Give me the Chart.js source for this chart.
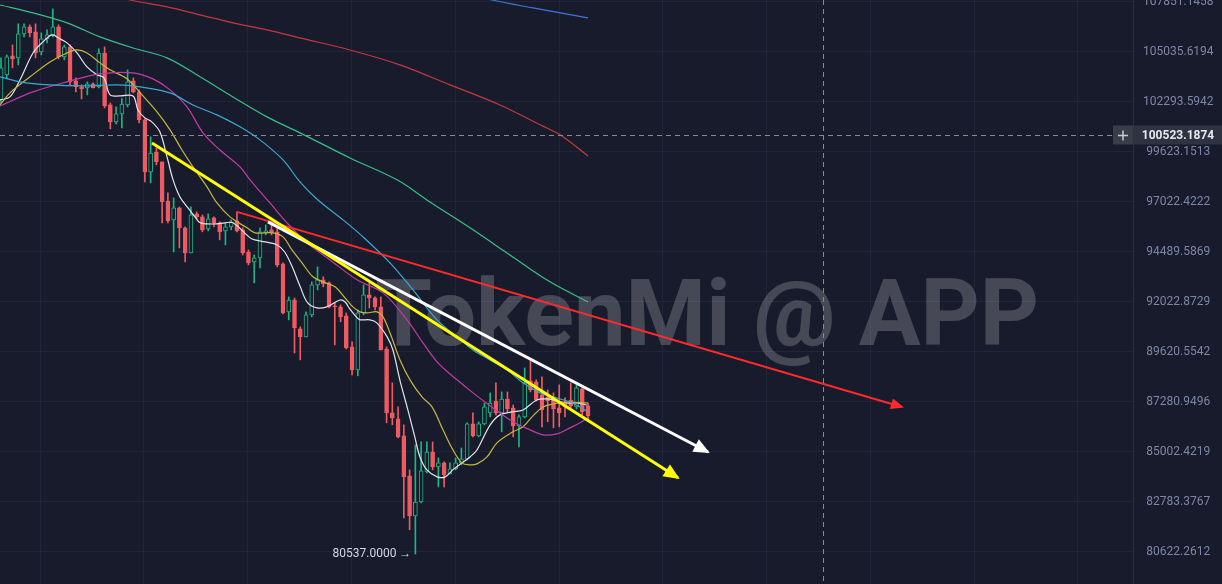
<!DOCTYPE html>
<html>
<head>
<meta charset="utf-8">
<script src="https://cdn.jsdelivr.net/npm/chart.js@4.4.1/dist/chart.umd.min.js"></script>
<style>
    html, body { margin: 0; padding: 0; background: #181b2b; }
    canvas { display: block; }
</style>
</head>
<body>
<canvas id="chart" width="1222" height="584"></canvas>
<script>
// candles, one per bar (index = bar number)
const opens  = [102404,103775,104817,104707,106049,106443,106162,105036,105768,105993,106443,104762,105318,103446,103117,103062,103281,103117,104981,102134,101226,101653,102134,103446,102842,101333,98583,99623,99103,97074,96110,96718,95705,94441,96414,96262,95654,96211,95958,95553,95756,96059,95604,94490,93997,94194,95452,95604,95503,93898,91543,92122,90726,90341,91398,92862,93108,92960,91831,91783,91350,89861,88779,91494,92368,92220,91783,89765,86780,86506,85731,83937,82178,82783,84115,85002,84336,84514,84026,84248,84514,84691,86278,85732,86278,86780,87328,86780,87421,87008,86187,86597,88264,88217,87609,87515,87421,87008,87281,87375,87053,87890,87099]
const highs  = [104707,104871,105430,106612,106612,106556,106612,106106,106275,107457,106556,105430,105430,103610,103226,103391,103336,105205,105318,102241,102027,102474,104049,103610,102952,101386,100425,99836,99103,97491,97230,96769,95756,96769,96515,96363,96414,96262,96009,95958,96110,96515,95705,94591,94342,95705,95857,95958,95857,93947,92270,92220,90822,91543,93010,93750,93257,93010,91975,91879,91494,90101,91639,92862,92960,92270,92270,89861,88170,87053,86233,84203,85321,85458,85458,85458,84736,84558,84514,84736,85184,86324,86780,86370,87235,87703,88170,87749,87749,87144,86689,88872,89247,88311,88451,87843,87703,88077,87468,88170,88077,87983,87235]
const lows   = [102241,103610,104159,104323,105880,105880,104707,104871,105543,105880,104652,104597,103226,102842,102459,102678,103062,103062,101974,100852,101119,100905,102027,102787,101172,98063,98011,98947,95958,95958,94490,94693,93997,94441,96161,95503,95553,95756,95097,94844,95604,95503,94342,93849,92960,93701,95351,95351,93750,91446,91158,89574,89247,90341,91302,92615,92763,91735,89957,91062,89765,88545,88498,91398,91735,91639,89717,86324,86233,85640,82091,81573,80537,82740,84070,84203,83449,83449,84026,84203,84425,84647,85686,85686,86233,86597,86689,85914,86825,85686,85230,86552,87749,87328,86142,86370,86096,86142,86597,87008,86962,86689,86461]
const closes = [104159,104762,104652,106049,106443,106106,104981,105768,105993,106443,104762,105318,103391,103117,103007,103281,103062,104981,102080,101226,101653,102187,103391,102842,101333,98583,99571,99103,97022,96059,96718,95705,94441,96363,96262,95604,96161,95958,95503,95756,96009,95553,94441,93947,94194,95503,95553,95452,93849,91494,92122,90774,90341,91398,92862,93108,92911,91783,91783,91302,89813,88779,91494,92368,92220,91783,89717,86780,86552,85686,83892,82178,82783,84159,85002,84336,84514,83981,84248,84514,84691,86278,85732,86278,87053,87235,86780,87421,86962,86187,86597,88170,87843,87375,86916,87328,86962,86780,87053,87099,87936,86825,86643]

// price axis labels (log scale, one label every 50px)
const priceTicks = [107851.1458, 105035.6194, 102293.5942, 99623.1513, 97022.4222, 94489.5869, 92022.8729, 89620.5542, 87280.9496, 85002.4219, 82783.3767, 80622.2612]
const priceMin = 79268.8
const priceMax = 107965.3
const barMin = -0.174
const barMax = 196.7
const timeGrid = [6.8, 24.8, 42.9, 60.9, 78.9, 97.0, 115.0, 133.0, 151.1, 169.1, 187.1]

// moving averages, [bar, price]
const maWhite = [[-0.17,102404],[1.56,102568],[3.3,103501],[5.56,104981],[7.3,105599],[8.86,105993],[10.25,105768],[11.47,105543],[13.21,104981],[14.94,104214],[16.68,103775],[17.9,103610],[18.94,102678],[20.68,102623],[22.94,102623],[23.8,101866],[25.0,101439],[26.2,101226],[27.6,100692],[28.85,99363],[29.9,98167],[31.1,97283],[32.5,96718],[33.7,96262],[34.6,95958],[35.8,95907],[37.5,95907],[38.9,95958],[40.3,95958],[43.3,95199],[44.1,95097],[45.9,94996],[48.0,94844],[49.3,94490],[50.6,93750],[52.0,92763],[53.3,91975],[54.9,91735],[56.6,91783],[58.9,92122],[59.8,92023],[60.6,91687],[61.9,91254],[62.4,91158],[64.1,91158],[65.3,91014],[67.1,90341],[68.1,89717],[69.3,88311],[70.7,86916],[71.9,85686],[72.8,84780],[74.0,84203],[75.8,83892],[77.2,83892],[78.5,84203],[80.1,84514],[81.5,84780],[82.7,85094],[85.0,86233],[86.7,86689],[88.8,86825],[90.7,86916],[93.1,87375],[94.9,87421],[96.6,87328],[98.3,87235],[100.1,87235],[101.8,87144]]
const maYellow = [[-0.17,102134],[1.56,102787],[5.04,103665],[8.51,104488],[11.47,104981],[13.21,105149],[14.94,104981],[17.2,104433],[18.94,104049],[21.89,103555],[24.5,102678],[27.11,101760],[29.37,100799],[31.45,99730],[33.36,98843],[35.8,97803],[37.53,96972],[39.79,96262],[42.75,95705],[44.14,95452],[47.26,95452],[49.0,95249],[50.56,94591],[52.3,93947],[54.21,93257],[55.95,93010],[58.04,92763],[59.77,92220],[61.16,91783],[62.38,91543],[63.6,91494],[65.34,91543],[66.38,91302],[67.59,90534],[69.33,89247],[71.07,88311],[73.15,87515],[74.89,87053],[76.8,86005],[78.54,85094],[80.1,84514],[81.49,84425],[82.71,84470],[84.45,84780],[86.18,85413],[88.96,85914],[90.7,86142],[92.27,86597],[94.18,87053],[95.92,87190],[98.35,87281],[102.0,87235]]
const maMagenta = [[-0.17,102080],[5.56,102842],[11.47,103391],[17.2,103830],[22.94,103885],[26.41,103555],[29.37,102952],[32.32,102027],[35.1,100638],[38.05,99730],[41.53,98843],[43.27,98167],[46.74,96972],[49.7,95958],[53.17,94946],[57.17,94095],[61.86,93108],[66.38,92467],[70.55,91158],[73.33,90053],[75.93,89106],[79.24,88311],[82.02,87703],[85.49,87008],[88.97,86370],[91.92,86005],[94.18,85777],[96.61,85823],[98.87,86096],[100.61,86324],[102.0,86552]]
const maCyan = [[-0.17,103665],[3.3,103391],[8.51,103226],[14.25,103172],[20.16,103226],[24.15,103117],[29.37,102787],[33.36,102134],[37.53,101600],[41.53,100959],[45.0,100264],[49.0,99207],[51.95,98063],[55.08,97126],[59.43,96110],[62.9,95249],[67.59,93947],[71.59,92615],[75.76,91158],[79.24,90341],[82.02,89717],[84.97,89247],[87.92,88779],[90.7,88170],[93.66,87703],[95.92,87515],[98.87,87281],[100.61,87053],[102.0,86825]]
const maGreen = [[-0.17,107682],[5.56,107232],[11.47,106669],[17.2,105880],[22.94,105260],[28.85,104707],[34.58,103665],[40.31,102568],[46.22,101493],[51.95,100638],[60.64,99311],[68.81,98167],[74.54,97022],[81.49,95705],[88.44,94342],[95.4,93010],[102.0,92023]]
const maRed = [[17.2,108414],[22.42,107964],[28.85,107570],[34.58,107119],[40.31,106669],[46.22,106275],[51.95,105824],[60.64,105149],[69.33,104323],[78.02,103226],[86.71,102134],[93.66,101066],[97.13,100532],[102.0,99415]]
const maBlue = [[81.5,108302],[85.32,107964],[92.44,107513],[102.0,106950]]

// hand drawn trend lines
const trendYellow = [[26.24,100104],[117.64,83848]]
const trendWhite = [[46.39,96009],[122.85,85002]]
const trendRed = [[41.01,96515],[156.56,87053]]

const crossPrice = 100523.1874
const crossBar = 142.8
const lowBar = 72

const colors = {
    bg: '#181b2b',
    grid: '#21253a',
    up: '#1db585',
    down: '#ee5b63',
    text: '#7c86a8'
}

const bars = opens.map((_, i) => i)
const upCandle = i => closes[i] >= opens[i]
const toPoints = arr => arr.map(p => ({ x: p[0], y: p[1] }))

function lineSet(pts, color, width, order, extra) {
    return Object.assign({
        type: 'line',
        data: toPoints(pts),
        borderColor: color,
        borderWidth: width,
        pointRadius: 0,
        tension: 0.35,
        fill: false,
        order: order
    }, extra || {})
}

const bgPlugin = {
    id: 'bg',
    beforeDraw(chart) {
        const ctx = chart.ctx
        ctx.save()
        ctx.fillStyle = colors.bg
        ctx.fillRect(0, 0, chart.width, chart.height)
        ctx.restore()
    }
}

const watermark = {
    id: 'watermark',
    beforeDatasetsDraw(chart) {
        const ctx = chart.ctx
        ctx.save()
        ctx.font = 'bold 92px Roboto'
        ctx.fillStyle = 'rgba(255,255,255,0.2)'
        ctx.textAlign = 'center'
        ctx.textBaseline = 'alphabetic'
        ctx.fillText('TokenMi @ APP', 707, 345)
        ctx.restore()
    }
}

const arrows = {
    id: 'arrows',
    afterDatasetsDraw(chart) {
        const ctx = chart.ctx
        chart.data.datasets.forEach((ds, i) => {
            if(!ds.arrow) return
            const pts = chart.getDatasetMeta(i).data
            const a = pts[pts.length - 2], b = pts[pts.length - 1]
            const ang = Math.atan2(b.y - a.y, b.x - a.x)
            ctx.save()
            ctx.fillStyle = ds.borderColor
            ctx.translate(b.x, b.y)
            ctx.rotate(ang)
            ctx.beginPath()
            ctx.moveTo(2, 0)
            ctx.lineTo(-ds.arrow, -ds.arrow * 0.5)
            ctx.lineTo(-ds.arrow, ds.arrow * 0.5)
            ctx.closePath()
            ctx.fill()
            ctx.restore()
        })
    }
}

const overlay = {
    id: 'overlay',
    afterDraw(chart) {
        const { ctx, chartArea, scales } = chart
        const cy = Math.round(scales.y.getPixelForValue(crossPrice)) + 0.5
        const cx = Math.round(scales.x.getPixelForValue(crossBar)) + 0.5
        const right = chartArea.right
        ctx.save()
        ctx.strokeStyle = '#878a96'
        ctx.lineWidth = 1
        ctx.setLineDash([5, 4])
        ctx.beginPath()
        ctx.moveTo(0, cy)
        ctx.lineTo(right - 20, cy)
        ctx.moveTo(cx, 0)
        ctx.lineTo(cx, chartArea.bottom)
        ctx.stroke()
        ctx.setLineDash([])

        ctx.fillStyle = '#393d4a'
        ctx.fillRect(right - 20, cy - 10, 20, 19)
        ctx.fillStyle = '#2f3341'
        ctx.fillRect(right, cy - 10, chart.width - right, 19)
        ctx.strokeStyle = '#c8cbd4'
        ctx.lineWidth = 1.5
        ctx.beginPath()
        ctx.moveTo(right - 15, cy)
        ctx.lineTo(right - 5, cy)
        ctx.moveTo(right - 10, cy - 5)
        ctx.lineTo(right - 10, cy + 5)
        ctx.stroke()
        ctx.fillStyle = '#e6e8ef'
        ctx.font = 'bold 12px Roboto'
        ctx.textAlign = 'center'
        ctx.textBaseline = 'middle'
        ctx.fillText(crossPrice.toFixed(4), right + 45, cy)

        const lx = scales.x.getPixelForValue(lowBar) - 4
        const ly = scales.y.getPixelForValue(lows[lowBar])
        ctx.font = '12px Roboto'
        ctx.textAlign = 'right'
        ctx.fillStyle = '#d3d7e3'
        ctx.fillText(lows[lowBar].toFixed(4) + ' \u2192', lx, ly)
        ctx.restore()
    }
}

new Chart(document.getElementById('chart'), {
    type: 'bar',
    data: {
        datasets: [
            {
                type: 'bar',
                data: bars.map(i => ({ x: i, y: [lows[i], highs[i]] })),
                backgroundColor: bars.map(i => upCandle(i) ? colors.up : colors.down),
                barThickness: 1,
                grouped: false,
                order: 6
            },
            {
                type: 'bar',
                data: bars.map(i => ({ x: i, y: [opens[i], closes[i]] })),
                backgroundColor: bars.map(i => upCandle(i) ? colors.bg : colors.down),
                borderColor: bars.map(i => upCandle(i) ? colors.up : colors.down),
                borderWidth: 1,
                borderSkipped: false,
                barThickness: 4,
                minBarLength: 1,
                grouped: false,
                order: 5
            },
            lineSet(maBlue, '#3b78dc', 1.2, 4),
            lineSet(maRed, '#c4393d', 1.2, 4),
            lineSet(maGreen, '#36c08c', 1.2, 4),
            lineSet(maCyan, '#39a9d4', 1.2, 4),
            lineSet(maMagenta, '#c23ba9', 1.2, 4),
            lineSet(maYellow, '#c7b73d', 1.2, 4),
            lineSet(maWhite, '#e4e4ea', 1.2, 4),
            lineSet(trendRed, '#ff2b2b', 2, 2, { tension: 0, arrow: 11 }),
            lineSet(trendYellow, '#ffff00', 3, 1, { tension: 0, arrow: 14 }),
            lineSet(trendWhite, '#ffffff', 3, 1, { tension: 0, arrow: 14 })
        ]
    },
    options: {
        responsive: false,
        animation: false,
        layout: { padding: 0 },
        plugins: { legend: { display: false }, tooltip: { enabled: false } },
        scales: {
            x: {
                type: 'linear',
                bounds: 'data',
                offset: false,
                min: barMin,
                max: barMax,
                afterBuildTicks: scale => { scale.ticks = timeGrid.map(v => ({ value: v })) },
                afterFit: scale => { scale.height = 0; scale.paddingLeft = 0; scale.paddingRight = 0 },
                ticks: { display: false },
                grid: { color: colors.grid, drawTicks: false, offset: false },
                border: { display: false }
            },
            y: {
                type: 'logarithmic',
                position: 'right',
                bounds: 'data',
                min: priceMin,
                max: priceMax,
                afterBuildTicks: scale => { scale.ticks = priceTicks.map(v => ({ value: v })) },
                afterFit: scale => { scale.width = 89; scale.paddingTop = 0; scale.paddingBottom = 0 },
                ticks: {
                    autoSkip: false,
                    crossAlign: 'center',
                    padding: 10,
                    color: colors.text,
                    font: { family: 'Roboto', size: 12 },
                    callback: v => Number(v).toFixed(4)
                },
                grid: { color: colors.grid, drawTicks: false },
                border: { display: true, color: '#2a2e3f' }
            }
        }
    },
    plugins: [bgPlugin, watermark, arrows, overlay]
})
</script>
</body>
</html>
